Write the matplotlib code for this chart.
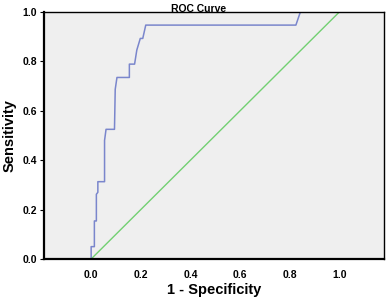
import numpy as np
import matplotlib
matplotlib.use('Agg')
import matplotlib.pyplot as plt

plt.rcParams['font.family'] = ['Liberation Sans', 'DejaVu Sans']

# ROC curve points
fpr = [0.0, 0.0, 0.013, 0.013, 0.021, 0.021, 0.027, 0.027, 0.054, 0.054, 0.060,
       0.094, 0.097, 0.104, 0.154, 0.154, 0.175, 0.184, 0.198, 0.208, 0.220,
       0.825, 0.843, 1.0]
tpr = [0.0, 0.05, 0.05, 0.154, 0.154, 0.262, 0.270, 0.313, 0.313, 0.48, 0.525,
       0.525, 0.687, 0.735, 0.735, 0.789, 0.789, 0.846, 0.893, 0.893, 0.947,
       0.947, 1.0, 1.0]

ref_x = [0.0, 1.0]
ref_y = [0.0, 1.0]

fig = plt.figure(figsize=(3.87, 2.98), dpi=100)
ax = fig.add_axes([0.1137, 0.1309, 0.8785, 0.8288])
ax.set_facecolor('#efefef')

ax.plot(fpr, tpr, color='#7a86cc', lw=1.1)
ax.plot(ref_x, ref_y, color='#72d072', lw=1.0)

ax.set_xlim(-0.19, 1.18)
ax.set_ylim(0, 1.0)
ax.set_xticks([0.0, 0.2, 0.4, 0.6, 0.8, 1.0])
ax.set_yticks([0.0, 0.2, 0.4, 0.6, 0.8, 1.0])
ax.xaxis.set_major_formatter(matplotlib.ticker.FormatStrFormatter('%.1f'))
ax.yaxis.set_major_formatter(matplotlib.ticker.FormatStrFormatter('%.1f'))
ax.tick_params(axis='both', labelsize=7.5, length=3, width=0.8, pad=2)
ax.tick_params(axis='x', length=0, pad=8)
for lbl in ax.get_xticklabels() + ax.get_yticklabels():
    lbl.set_fontweight('bold')

for side in ['left', 'bottom']:
    ax.spines[side].set_linewidth(1.6)
for side in ['top', 'right']:
    ax.spines[side].set_linewidth(1.0)

ax.set_xlabel('1 - Specificity', fontsize=10.5, fontweight='bold', labelpad=2)
ax.set_ylabel('Sensitivity', fontsize=10.5, fontweight='bold', labelpad=4)
fig.text(0.512, 0.985, 'ROC Curve', fontsize=7.5, fontweight='bold',
         ha='center', va='top')

fig.savefig('out.png', dpi=100)
